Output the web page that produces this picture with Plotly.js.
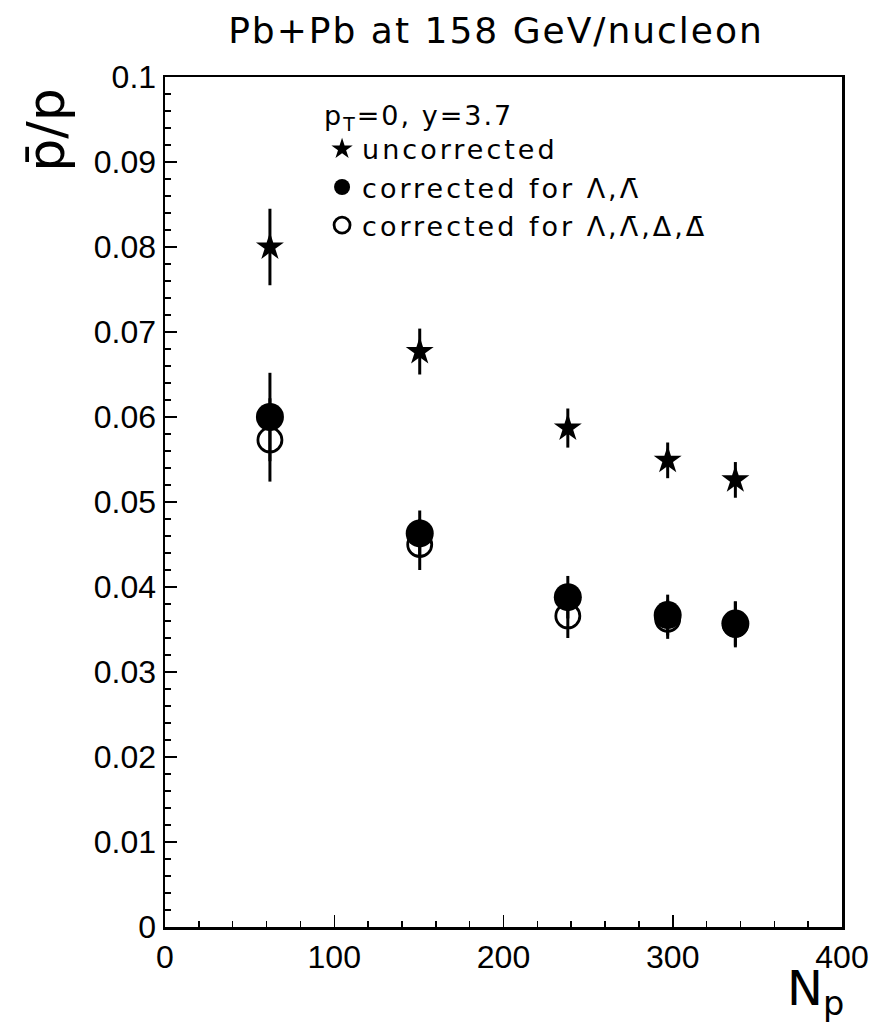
<!DOCTYPE html>
<html>
<head>
<meta charset="utf-8">
<script src="https://cdn.plot.ly/plotly-3.0.1.min.js"></script>
<style>
html,body{margin:0;padding:0;background:#fff;}
#chart{width:871px;height:1026px;}
#chart .legendtext{letter-spacing:3px;}
#chart .legendtitletext{letter-spacing:2px;}
#chart .gtitle{letter-spacing:2px;}
#chart .legend .scrollbox{clip-path:none !important;}
#chart .legend{clip-path:none !important;}
</style>
</head>
<body>
<div id="chart"></div>
<script>
// Data
const npart = [62, 150.5, 238, 297, 337];
const uncorrected = [0.0800, 0.0677, 0.0587, 0.0549, 0.0526];
const uncorrectedErr = [0.0045, 0.0027, 0.0023, 0.0021, 0.0021];
const corrLambda = [0.0600, 0.0463, 0.0388, 0.0367, 0.0357];
const corrLambdaErr = [0.0052, 0.0027, 0.0025, 0.0024, 0.0026];
const corrLambdaDelta = [0.0573, 0.0450, 0.0366, 0.0362, 0.0356];
const corrLambdaDeltaErr = [0.0049, 0.0030, 0.0026, 0.0023, 0.0027];
const seriesNames = ['uncorrected', 'corrected for \u039B,\u039B\u0304', 'corrected for \u039B,\u039B\u0304,\u0394,\u0394\u0304'];
const yTickVals = [0, 0.01, 0.02, 0.03, 0.04, 0.05, 0.06, 0.07, 0.08, 0.09, 0.1];
const yTickText = ['0', '0.01', '0.02', '0.03', '0.04', '0.05', '0.06', '0.07', '0.08', '0.09', '0.1'];

const txtFont = 'DejaVu Sans';
const tickFont = 'Liberation Sans';

const errStyle = (arr) => ({type: 'data', array: arr, visible: true, color: '#000', thickness: 3, width: 0});

const traces = [
  {x: npart, y: uncorrected, error_y: errStyle(uncorrectedErr), type: 'scatter', mode: 'markers',
   name: seriesNames[0], legendrank: 1,
   marker: {symbol: 'star', size: 21, color: '#000', line: {width: 0}}},
  {x: npart, y: corrLambdaDelta, error_y: errStyle(corrLambdaDeltaErr), type: 'scatter', mode: 'markers',
   name: seriesNames[2], legendrank: 3,
   marker: {symbol: 'circle-open', size: 24, color: '#000', line: {width: 2.8, color: '#000'}}},
  {x: npart, y: corrLambda, error_y: errStyle(corrLambdaErr), type: 'scatter', mode: 'markers',
   name: seriesNames[1], legendrank: 2,
   marker: {symbol: 'circle', size: 28, color: '#000', line: {width: 0}}}
];

const layout = {
  width: 871, height: 1026,
  paper_bgcolor: '#fff', plot_bgcolor: '#fff',
  margin: {l: 165, r: 29, t: 77, b: 99, pad: 0},
  showlegend: true,
  legend: {
    x: 0.232, y: 0.985, xanchor: 'left', yanchor: 'top',
    bgcolor: 'rgba(0,0,0,0)', borderwidth: 0,
    font: {family: txtFont, size: 27, color: '#000'},
    title: {text: 'p<sub>T</sub>=0, y=3.7', font: {family: txtFont, size: 27, color: '#000'}},
    itemwidth: 30, tracegroupgap: 0, entrywidth: 520, entrywidthmode: 'pixels'
  },
  title: {text: 'Pb+Pb at 158 GeV/nucleon', font: {family: txtFont, size: 36, color: '#000'},
          x: 496/871, xanchor: 'center', y: 1 - 30/1026, yanchor: 'middle', xref: 'container'},
  xaxis: {
    range: [0, 400], showgrid: false, zeroline: false,
    showline: true, linecolor: '#000', linewidth: 2.5, mirror: true,
    ticks: 'inside', ticklen: 12, tickwidth: 1.5, tickcolor: '#000',
    tick0: 0, dtick: 100,
    minor: {ticks: 'inside', ticklen: 6, tickwidth: 1.5, tickcolor: '#000', dtick: 20, showgrid: false},
    tickfont: {family: tickFont, size: 32, color: '#000'}
  },
  yaxis: {
    range: [0, 0.1], showgrid: false, zeroline: false,
    showline: true, linecolor: '#000', linewidth: 2.5, mirror: true,
    ticks: 'inside', ticklen: 12, tickwidth: 1.5, tickcolor: '#000',
    tickmode: 'array', tickvals: yTickVals, ticktext: yTickText,
    minor: {ticks: 'inside', ticklen: 6, tickwidth: 1.5, tickcolor: '#000', dtick: 0.002, tick0: 0, showgrid: false},
    tickfont: {family: tickFont, size: 32, color: '#000'}
  },
  annotations: [
    {text: 'p\u0304/p', xref: 'paper', yref: 'paper', x: -0.177, y: 0.99, xanchor: 'center', yanchor: 'top',
     textangle: -90, showarrow: false, font: {family: txtFont, size: 52, color: '#000'}},
    {text: 'N<sub>p</sub>', xref: 'paper', yref: 'paper', x: 1.006, y: -0.036, xanchor: 'right', yanchor: 'top',
     showarrow: false, font: {family: txtFont, size: 48, color: '#000'}}
  ]
};

Plotly.newPlot('chart', traces, layout, {staticPlot: true, displayModeBar: false});
</script>
</body>
</html>
